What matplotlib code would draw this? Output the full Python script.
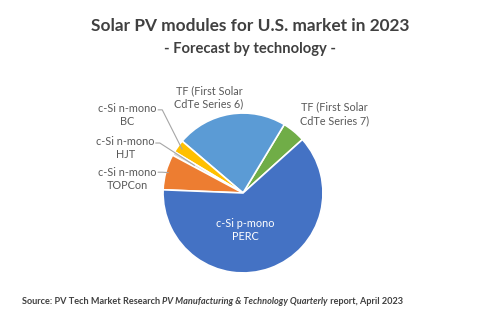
import numpy as np
import matplotlib
matplotlib.use("Agg")
import matplotlib.pyplot as plt

# share of U.S. module market 2023 (%), counter-clockwise from start angle
labels = ["TF (First Solar\nCdTe Series 7)", "TF (First Solar\nCdTe Series 6)",
          "c-Si n-mono\nBC", "c-Si n-mono\nHJT", "c-Si n-mono\nTOPCon",
          "c-Si p-mono\nPERC"]
shares = [4.7, 22.4, 2.6, 0.8, 7.2, 62.3]
colors = ["#70AD47", "#5B9BD5", "#FFC000", "#DADADA", "#ED7D31", "#4472C4"]

plt.rcParams['font.family'] = ['Lato', 'DejaVu Sans']

fig = plt.figure(figsize=(5, 3.23), dpi=100)
ax = fig.add_axes([0.326, 0.155, 0.32, 0.495])
wedges, _ = ax.pie(shares, colors=colors, startangle=42, counterclock=True,
                   wedgeprops=dict(edgecolor="white", linewidth=1.2))
ax.set_xlim(-1, 1)
ax.set_ylim(-1, 1)
ax.set_aspect('equal')

gray = "#595959"
line_c = "#A6A6A6"

# label position, leader line start, radius where line ends (None = no line)
label_pos = [(1.14, 0.99), (-0.425, 1.2), (-1.45, 0.975), (-1.475, 0.56),
             (-1.45, 0.175), (0.025, -0.46)]
line_start = [None, None, (-1.06, 1.04), (-1.09, 0.625), (-1.06, 0.26), None]
line_r = [None, None, 0.94, 0.7, 0.97, None]

for w, lab, pos, ls, lr in zip(wedges, labels, label_pos, line_start, line_r):
    col = "white" if "PERC" in lab else gray
    ax.text(pos[0], pos[1], lab, ha='center', va='center', fontsize=7.8,
            color=col, linespacing=1.25, clip_on=False)
    if ls is not None:
        mid = np.deg2rad((w.theta1 + w.theta2) / 2)
        ex, ey = lr * np.cos(mid), lr * np.sin(mid)
        ax.plot([ls[0], ls[0] + 0.05, ex], [ls[1], ls[1], ey], color=line_c,
                lw=0.8, clip_on=False)

fig.text(0.5, 0.918, "Solar PV modules for U.S. market in 2023", ha='center',
         va='center', fontsize=12.4, fontweight='bold', color="#404040")
fig.text(0.5, 0.848, "- Forecast by technology -", ha='center', va='center',
         fontsize=10.6, fontweight='bold', color="#404040")

# source line with an italic part
t1 = fig.text(0.044, 0.068, "Source: PV Tech Market Research ", ha='left',
              va='center', fontsize=6.6, fontweight='bold', color="#404040")
t2 = ax.annotate("PV Manufacturing & Technology Quarterly", xy=(1, 0),
                 xycoords=t1, va='bottom', fontsize=6.6, fontweight='bold',
                 fontstyle='italic', color="#404040")
ax.annotate(" report, April 2023", xy=(1, 0), xycoords=t2, va='bottom',
            fontsize=6.6, fontweight='bold', color="#404040")

fig.savefig("out.png", dpi=100, facecolor="white")
